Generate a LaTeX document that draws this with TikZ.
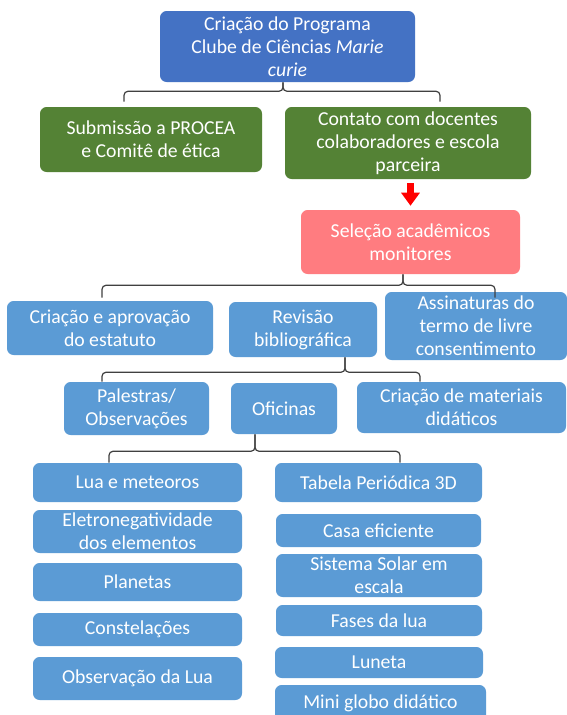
\documentclass[tikz,border=0pt]{standalone}
\usepackage{fontspec}
\setmainfont{Carlito}
\usetikzlibrary{calc,arrows.meta}
\definecolor{topblue}{HTML}{4472C4}
\definecolor{leafgreen}{HTML}{548235}
\definecolor{salmon}{HTML}{FF7C80}
\definecolor{boxblue}{HTML}{5B9BD5}
\definecolor{bracegray}{HTML}{404040}
\tikzset{
  box/.style={rounded corners=5pt, text=white, align=center, inner sep=0pt,
    font=\fontsize{14.8}{17.3}\selectfont},
  sz/.style 2 args={minimum width=#1*0.75pt, minimum height=#2*0.75pt},
  bluebox/.style={box, fill=boxblue},
  greenbox/.style={box, fill=leafgreen},
  brc/.style={draw=bracegray, line width=0.9pt, rounded corners=3pt},
  redarrow/.style={draw=red, line width=5.25pt, -{Triangle[width=13.5pt,length=9.75pt]}}
}
\begin{document}
\begin{tikzpicture}[x=0.75pt, y=-0.75pt]
\useasboundingbox (0,0) rectangle (567,715);
\fill[white] (0,0) rectangle (567,715);

% level 0
\node[box, fill=topblue, sz={255}{71}] (top) at (287.5,46.5)
  {Criação do Programa\\Clube de Ciências \textit{Marie}\\\textit{curie}};
% level 1
\node[greenbox, sz={222}{65}] (gL) at (151,139.5) {Submissão a PROCEA\\e Comitê de ética};
\node[greenbox, sz={246}{72}] (gR) at (408,143) {Contato com docentes\\colaboradores e escola\\parceira};
% level 2
\node[box, fill=salmon, sz={219}{64}] (red) at (410.5,242) {Seleção acadêmicos\\monitores};
% level 3
\node[bluebox, sz={206}{54}] (r2a) at (110,328) {Criação e aprovação\\do estatuto};
\node[bluebox, sz={148}{55}] (r2b) at (303,329.5) {Revisão\\bibliográfica};
\node[bluebox, sz={182}{68}] (r2c) at (476,326) {Assinaturas do\\termo de livre\\consentimento};
% level 4
\node[bluebox, sz={145}{53}] (r3a) at (136.5,408.5) {Palestras/\\Observações};
\node[bluebox, sz={106}{51}] (r3b) at (284,408.5) {Oficinas};
\node[bluebox, sz={209}{51}] (r3c) at (461.5,407.5) {Criação de materiais\\didáticos};
% left column
\node[bluebox, sz={209}{39}] (L1) at (137.5,482.5) {Lua e meteoros};
\node[bluebox, sz={209}{43}] (L2) at (137.5,531.5) {Eletronegatividade\\dos elementos};
\node[bluebox, sz={209}{38}] (L3) at (137.5,582) {Planetas};
\node[bluebox, sz={209}{33}] (L4) at (137.5,629.5) {Constelações};
\node[bluebox, sz={209}{43}] (L5) at (137.5,678.5) {Observação da Lua};
% right column
\node[bluebox, sz={207}{39}] (R1) at (378.5,482.5) {Tabela Periódica 3D};
\node[bluebox, sz={205}{33}] (R2) at (378.5,530.5) {Casa eficiente};
\node[bluebox, sz={206}{43}] (R3) at (379,575.5) {Sistema Solar em\\escala};
\node[bluebox, sz={206}{31}] (R4) at (379,620.5) {Fases da lua};
\node[bluebox, sz={208}{31}] (R5) at (379,662.5) {Luneta};
\node[bluebox, sz={211}{37}] (R6) at (380.5,703.5) {Mini globo didático};

% brace 1
\coordinate (b1l) at ($(gL.north)+(-27,-5)$);
\coordinate (b1r) at ($(gR.north)+(32,-5)$);
\draw[brc] (b1l) |- ($(top.south)+(-4.5,9)$) -- ($(top.south)+(-4.5,0)$);
\draw[brc] ($(top.south)+(-4.5,0)$) -- ($(top.south)+(-4.5,9)$) -| (b1r);

% red arrow
\draw[redarrow] ($(red.north |- gR.south)+(0,4)$) -- ($(red.north)+(0,-4)$);

% brace 2
\coordinate (b2l) at ($(r2a.north)+(-8,-3)$);
\coordinate (b2r) at ($(r2c.north)+(19,6)$);
\draw[brc] (b2l) |- ($(red.south)+(-7.5,11)$) -- ($(red.south)+(-7.5,0)$);
\draw[brc] ($(red.south)+(-7.5,0)$) -- ($(red.south)+(-7.5,11)$) -| (b2r);

% brace 3
\coordinate (b3l) at ($(r3a.north)+(-34.5,0)$);
\coordinate (b3r) at ($(r3c.north)+(-41.5,0)$);
\draw[brc] (b3l) |- ($(r2b.south)+(42,15)$) -- ($(r2b.south)+(42,0)$);
\draw[brc] ($(r2b.south)+(42,0)$) -- ($(r2b.south)+(42,15)$) -| (b3r);

% brace 4
\coordinate (b4l) at ($(L1.north)+(-28.5,0)$);
\coordinate (b4r) at ($(R1.north)+(21.5,0)$);
\draw[brc] (b4l) |- ($(r3b.south)+(-29,17)$) -- ($(r3b.south)+(-29,0)$);
\draw[brc] ($(r3b.south)+(-29,0)$) -- ($(r3b.south)+(-29,17)$) -| (b4r);
\end{tikzpicture}
\end{document}
